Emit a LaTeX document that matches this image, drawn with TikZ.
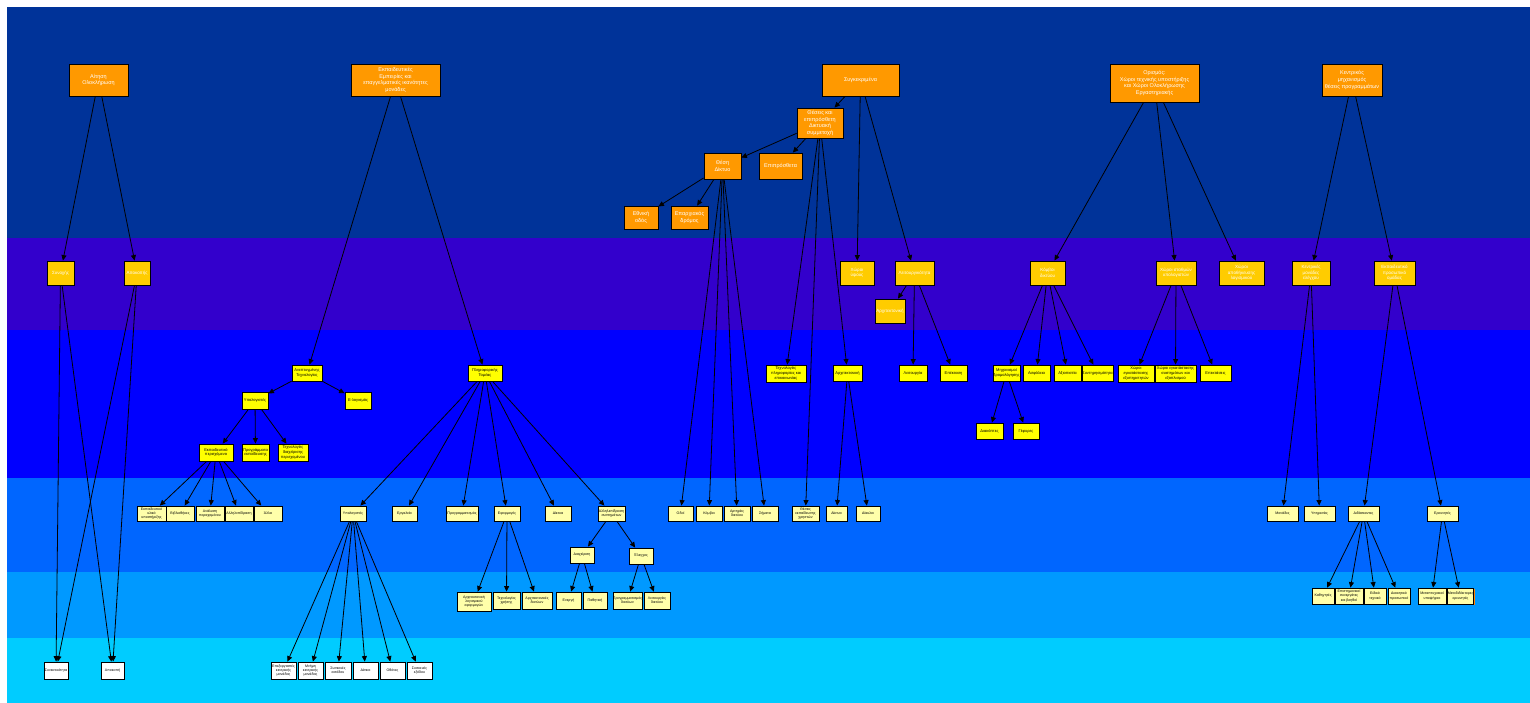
\documentclass[tikz,border=0pt]{standalone}
\usepackage{fontspec}
\setmainfont{Liberation Sans}
\usetikzlibrary{arrows.meta,shadows}
\definecolor{bandA}{HTML}{003399}
\definecolor{bandB}{HTML}{3300CC}
\definecolor{bandC}{HTML}{0000FF}
\definecolor{bandD}{HTML}{0066FF}
\definecolor{bandE}{HTML}{0099FF}
\definecolor{bandF}{HTML}{00CCFF}
\definecolor{orangeC}{HTML}{FF9900}
\definecolor{goldC}{HTML}{FFCC00}
\definecolor{yelC}{HTML}{FFFF00}
\definecolor{paleC}{HTML}{FFFFAA}
\newcommand\bx[7]{\node[#1,minimum width=#5pt,minimum height=#6pt] (#2) at (#3,#4) {#7};}
\begin{document}
\begin{tikzpicture}[x=1pt,y=-1pt,
  boxbase/.style={draw=black,line width=0.8pt,inner sep=0pt,align=center},
  sh/.style={drop shadow={shadow xshift=1.4pt,shadow yshift=-1.4pt,fill=#1,opacity=1}},
  ob/.style={boxbase,sh=#1,fill=orangeC,text=white,font=\fontsize{5.5}{6.6}\selectfont},
  ob/.default=black,
  gb/.style={boxbase,sh=#1,fill=goldC,text=white,font=\fontsize{4.5}{5.4}\selectfont},
  gb/.default=black,
  yb/.style={boxbase,sh=#1,fill=yelC,text=black,font=\fontsize{4}{4.8}\selectfont},
  yb/.default=black,
  pb/.style={boxbase,sh=#1,fill=paleC,text=black,font=\fontsize{3.6}{4.3}\selectfont},
  pb/.default=black,
  wb/.style={boxbase,sh=#1,fill=white,text=black,font=\fontsize{3.6}{4.3}\selectfont},
  wb/.default=black,
  arr/.style={draw=black,line width=0.8pt,-{Triangle[length=5.5pt,width=5pt]}}
]
\useasboundingbox (0,0) rectangle (1530,703);
\fill[white] (0,0) rectangle (1530,703);
\fill[bandA] (7,7) rectangle (1530,238);
\fill[bandB] (7,238) rectangle (1530,330);
\fill[bandC] (7,330) rectangle (1530,478);
\fill[bandD] (7,478) rectangle (1530,572);
\fill[bandE] (7,572) rectangle (1530,638);
\fill[bandF] (7,638) rectangle (1530,703);

% band 1
\bx{ob}{A1}{98.5}{80}{59}{32}{Αίτηση\\Ολοκλήρωση}
\bx{ob}{A2}{395.5}{80}{89}{32}{Εκπαιδευτικές\\Εμπειρίες και\\επαγγελματικές ικανότητες\\μονάδες}
\bx{ob}{A3}{860.5}{80}{77}{32}{Συγκεκριμένα}
\bx{ob}{A4}{1154.5}{83}{89}{38}{Ορισμός:\\Χώροι τεχνικής υποστήριξης\\και Χώροι Ολοκλήρωσης\\Εργαστηριακής}
\bx{ob}{A5}{1352}{80}{60}{32}{Κεντρικός\\μηχανισμός\\θέσεις προγραμμάτων}
\bx{ob}{B1}{820}{123}{46}{30}{Θέσεις και\\επιπρόσθετη\\Δικτυακή\\συμμετοχή}
\bx{ob}{C1}{722.5}{166}{37}{26}{Θέση\\Δίκτυο}
\bx{ob}{C2}{780.5}{166}{43}{26}{Επιπρόσθετα}
\bx{ob}{D1}{641}{217.5}{34}{23}{Εθνική\\οδός}
\bx{ob}{D2}{689.5}{217.5}{37}{23}{Επαρχιακός\\δρόμος}

% band 2
\bx{gb}{E1}{60.5}{273}{27}{24}{Συνοχής}
\bx{gb}{E2}{137}{273}{26}{24}{Αποκοπής}
\bx{gb}{E3}{857}{273}{34}{24}{Χώροι\\ύψους}
\bx{gb}{E4}{914.5}{273}{39}{24}{Λειτουργικότητα}
\bx{gb}{E5}{890}{311}{30}{24}{Αρχιτεκτονική}
\bx{gb}{E6}{1047.5}{273}{35}{24}{Κόμβοι\\δικτύου}
\bx{gb}{E7}{1176}{273}{40}{24}{Χώροι σταθμών\\υπολογιστών}
\bx{gb}{E8}{1241.5}{273}{45}{24}{Χώροι\\αποθήκευσης\\λογισμικού}
\bx{gb}{E9}{1311}{273}{38}{24}{Κεντρικές\\μονάδες\\ελέγχου}
\bx{gb}{E10}{1394.5}{273}{41}{24}{Εκπαιδευτικό\\προσωπικό\\ομάδας}

% band 3
\bx{yb}{F1}{307}{373}{30}{16}{Ανεπτυγμένης\\Τεχνολογίας}
\bx{yb=green!60!black}{F2}{485}{373}{34}{16}{Πληροφορικής\\Τομέας}
\bx{yb}{F3}{255}{400.5}{26}{17}{Υπολογιστές}
\bx{yb}{F4}{358}{400.5}{26}{17}{Ε-λογισμός}
\bx{yb}{G1}{216}{452.5}{34}{17}{Εκπαιδευτικό\\περιεχόμενο}
\bx{yb}{G2}{255.5}{452.5}{27}{17}{Προγράμματα\\εκπαίδευσης}
\bx{yb}{G3}{293}{452.5}{30}{17}{Τεχνολογίες\\διαχείρισης\\περιεχομένου}
\bx{yb}{H1}{786}{373.5}{40}{17}{Τεχνολογίες\\πληροφορίας και\\επικοινωνίας}
\bx{yb}{H2}{847.5}{373}{29}{16}{Αρχιτεκτονική}
\bx{yb}{H3}{913}{373}{28}{16}{Λειτουργία}
\bx{yb}{H4}{953.5}{373}{27}{16}{Επέκταση}
\bx{yb}{H5}{1006.5}{373}{27}{16}{Μηχανισμοί\\δρομολόγησης}
\bx{yb}{H6}{1036.5}{373}{27}{16}{Ασφάλεια}
\bx{yb}{H7}{1067.5}{373}{27}{16}{Αξιοπιστία}
\bx{yb}{H8}{1097.5}{373}{31}{16}{Συντηρησιμότητα}
\bx{yb}{H9}{1136}{373.5}{36}{17}{Χώροι\\εγκατάστασης\\εξυπηρετητών}
\bx{yb}{H10}{1175.5}{373.5}{41}{17}{Χώροι εγκατάστασης\\συστημάτων και\\εξοπλισμού}
\bx{yb}{H11}{1215.5}{373}{31}{16}{Επεκτάσεις}
\bx{yb}{I1}{989.5}{431}{27}{16}{Διακόπτες}
\bx{yb=green!60!black}{I2}{1026}{431}{26}{16}{Γέφυρες}

% band 4
\bx{pb}{J1}{151.5}{513.5}{29}{15}{Εκπαιδευτικό\\υλικό\\υποστήριξης}
\bx{pb}{J2}{180}{513.5}{28}{15}{Βιβλιοθήκες}
\bx{pb}{J3}{210}{513.5}{28}{15}{Ανάλυση\\περιεχομένου}
\bx{pb}{J4}{239}{513.5}{28}{15}{Αλληλεπίδραση}
\bx{pb=red}{J5}{268}{513.5}{28}{15}{Άλλα}
\bx{pb}{K1}{353}{513.5}{26}{15}{Υπολογιστές}
\bx{pb}{K2}{404.5}{513.5}{25}{15}{Εργαλεία}
\bx{pb}{K3}{462}{513.5}{32}{15}{Προγραμματισμός}
\bx{pb}{K4}{507}{513.5}{26}{15}{Εφαρμογές}
\bx{pb}{K5}{558}{513.5}{26}{15}{Δίκτυα}
\bx{pb}{K6}{611.5}{513.5}{27}{15}{Αλληλεπίδραση\\συστημάτων}
\bx{pb}{L1}{680.5}{513.5}{25}{15}{Οδοί}
\bx{pb}{L2}{709}{513.5}{26}{15}{Κόμβοι}
\bx{pb}{L3}{737}{513.5}{26}{15}{Αρτηρίες\\δικτύου}
\bx{pb}{L4}{765}{513.5}{26}{15}{Σήματα}
\bx{pb}{L5}{805.5}{513.5}{27}{15}{Θέσεις\\εκπαίδευσης\\χρηστών}
\bx{pb}{L6}{836.5}{513.5}{21}{15}{Δίκτυα}
\bx{pb=red}{L7}{868}{513.5}{24}{15}{Δίαυλοι}
\bx{pb}{M1}{1282.5}{513.5}{31}{15}{Μονάδες}
\bx{pb=red}{M2}{1319.5}{513.5}{31}{15}{Υπηρεσίες}
\bx{pb}{M3}{1363.5}{513.5}{31}{15}{Διδάσκοντες}
\bx{pb}{M4}{1442.5}{513.5}{31}{15}{Ερευνητές}
\bx{pb=red}{N1}{582}{555}{24}{16}{Διαχείριση}
\bx{pb}{N2}{641}{556}{24}{16}{Έλεγχος}

% band 5
\bx{pb}{O1}{474}{601.5}{34}{19}{Αρχιτεκτονική\\λογισμικού\\εφαρμογών}
\bx{pb}{O2}{506.5}{600.5}{27}{17}{Τεχνολογίες\\χρήσης}
\bx{pb}{O3}{537}{600.5}{30}{17}{Αρχιτεκτονικές\\δικτύων}
\bx{pb}{O4}{568.5}{600.5}{25}{17}{Ενεργή}
\bx{pb}{O5}{595}{600.5}{24}{17}{Παθητική}
\bx{pb}{O6}{627.5}{600.5}{29}{17}{Προγραμματισμός\\δικτύων}
\bx{pb}{O7}{657}{600.5}{26}{17}{Λειτουργίες\\δικτύου}
\bx{pb}{P1}{1323}{596}{22}{16}{Καθηγητές}
\bx{pb}{P2}{1349}{596}{28}{16}{Επιστημονικοί\\συνεργάτες\\και βοηθοί}
\bx{pb}{P3}{1375}{596}{22}{16}{Ειδικό\\τεχνικό}
\bx{pb}{P4}{1399}{596}{22}{16}{Διοικητικό\\προσωπικό}
\bx{pb}{P5}{1432}{596}{28}{16}{Μεταπτυχιακοί\\υποψήφιοι}
\bx{pb=orange}{P6}{1460.5}{596}{23}{16}{Μεταδιδάκτορες\\ερευνητές}

% band 6
\bx{wb}{Q1}{56}{670.5}{24}{17}{Συνεκτικότητα}
\bx{wb}{Q2}{112.5}{670.5}{23}{17}{Αποκοπή}
\bx{wb}{Q3}{283.5}{670.5}{25}{17}{Επεξεργαστές\\κεντρικής\\μονάδας}
\bx{wb}{Q4}{310.5}{670.5}{25}{17}{Μνήμη\\κεντρικής\\μονάδας}
\bx{wb}{Q5}{338}{670.5}{26}{17}{Συσκευές\\εισόδου}
\bx{wb}{Q6}{365.5}{670.5}{25}{17}{Δίσκοι}
\bx{wb}{Q7}{392.5}{670.5}{25}{17}{Οθόνες}
\bx{wb}{Q8}{419.5}{670.5}{25}{17}{Συσκευές\\εξόδου}

% connectors
\foreach \s/\t in {A1/E1,A1/E2,E1/Q1,E1/Q2,E2/Q1,E2/Q2,
  A2/F1,A2/F2,F1/F3,F1/F4,F3/G1,F3/G2,F3/G3,
  G1/J1,G1/J2,G1/J3,G1/J4,G1/J5,
  F2/K1,F2/K2,F2/K3,F2/K4,F2/K5,F2/K6,
  K1/Q3,K1/Q4,K1/Q5,K1/Q6,K1/Q7,K1/Q8,
  K4/O1,K4/O2,K4/O3,K6/N1,K6/N2,N1/O4,N1/O5,N2/O6,N2/O7,
  A3/B1,A3/E3,A3/E4,B1/C1,B1/C2,B1/H1,B1/L5,B1/H2,
  C1/D1,C1/D2,C1/L1,C1/L2,C1/L3,C1/L4,H2/L6,H2/L7,
  E4/E5,E4/H3,E4/H4,A4/E6,A4/E7,A4/E8,
  E6/H5,E6/H6,E6/H7,E6/H8,H5/I1,H5/I2,E7/H9,E7/H10,E7/H11,
  A5/E9,A5/E10,E9/M1,E9/M2,E10/M3,E10/M4,
  M3/P1,M3/P2,M3/P3,M3/P4,M4/P5,M4/P6}
  \draw[arr] (\s) -- (\t);
\end{tikzpicture}
\end{document}
